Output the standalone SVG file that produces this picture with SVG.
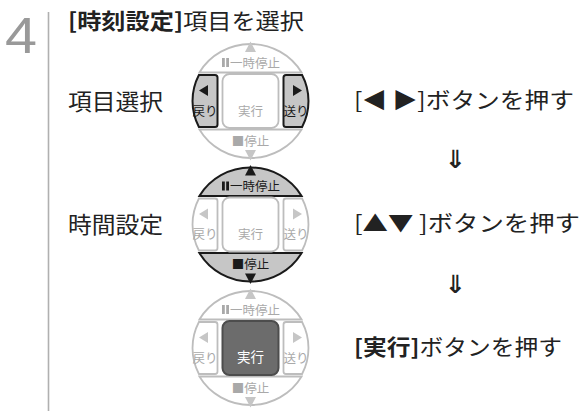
<svg xmlns="http://www.w3.org/2000/svg" xmlns:xlink="http://www.w3.org/1999/xlink" width="582" height="413" viewBox="0 0 582 413">
<style>
text{font-family:"Noto Sans CJK JP","Noto Sans",sans-serif}
.off{fill:#fff;stroke:#bdbdbd;stroke-width:1.8}
.offt{fill:#a9a9a9}
.offtri{fill:#c6c6c6}
.on{fill:#c6c6c6;stroke:#1a1a1a;stroke-width:2}
.ont{fill:#1a1a1a}
.onc{fill:#6c6c6c;stroke:#4d4d4d;stroke-width:2}
.onct{fill:#fff}
.s{font-size:12.5px;text-anchor:middle}
.lab{font-size:22.5px;fill:#222}
.rt{font-size:21.5px;fill:#222}
.arr{font-family:"DejaVu Sans",sans-serif;font-size:25px;font-weight:bold;fill:#222;text-anchor:middle}
</style>
<defs>
<path id="topSeg" d="M -51.1,-28.5 A 59 57 0 0 1 51.1,-28.5 Z"/>
<path id="botSeg" d="M -51.1,28.5 A 59 57 0 0 0 51.1,28.5 Z"/>
<path id="leftBtn" d="M -35.5,-26 L -51.6,-26 A 58 57 0 0 0 -51.6,26 L -35.5,26 Q -33,26 -33,23.5 L -33,-23.5 Q -33,-26 -35.5,-26 Z"/>
<path id="rightBtn" d="M 35.5,-26 L 51.6,-26 A 58 57 0 0 1 51.6,26 L 35.5,26 Q 33,26 33,23.5 L 33,-23.5 Q 33,-26 35.5,-26 Z"/>
<rect id="centerBtn" x="-28" y="-27" width="56" height="54" rx="7"/>
<path id="upTri" d="M 0,-59.5 L 5.5,-49 L -5.5,-49 Z"/>
<path id="downTri" d="M 0,59.5 L 5.5,49 L -5.5,49 Z"/>
<path id="lTri" d="M -51.5,-10.5 L -42.5,-16 L -42.5,-5 Z"/>
<path id="rTri" d="M 51.5,-10.5 L 42.5,-16 L 42.5,-5 Z"/>
<g id="pause"><rect x="-28.5" y="-43" width="2.8" height="9"/><rect x="-24.3" y="-43" width="2.8" height="9"/></g>
</defs>

<g id="step-number">
<text x="5" y="53" style="font-family:'Liberation Sans',sans-serif" font-size="50" fill="#999999" textLength="32" lengthAdjust="spacingAndGlyphs">4</text>
<line x1="48.5" y1="12" x2="48.5" y2="411" stroke="#b0b0b0" stroke-width="1.6"/>
</g>

<g id="heading">
<text x="68" y="29" font-size="22" fill="#222" textLength="236" lengthAdjust="spacingAndGlyphs"><tspan font-weight="bold">[時刻設定]</tspan>項目を選択</text>
</g>

<g id="label-item"><text class="lab" x="68" y="110" textLength="95" lengthAdjust="spacingAndGlyphs">項目選択</text></g>
<g id="label-time"><text class="lab" x="68" y="233" textLength="95" lengthAdjust="spacingAndGlyphs">時間設定</text></g>

<!-- controller 1: left/right active -->
<g id="ctrl1" transform="translate(250.5,101)">
<use xlink:href="#topSeg" class="off"/>
<use xlink:href="#botSeg" class="off"/>
<use xlink:href="#upTri" class="offtri"/>
<use xlink:href="#downTri" class="offtri"/>
<use xlink:href="#leftBtn" class="on"/>
<use xlink:href="#rightBtn" class="on"/>
<use xlink:href="#centerBtn" class="off"/>
<use xlink:href="#pause" class="offt"/>
<text class="s offt" x="4.5" y="-33.5">一時停止</text>
<text class="s offt" x="0" y="44.5">■停止</text>
<use xlink:href="#lTri" class="ont"/>
<use xlink:href="#rTri" class="ont"/>
<text class="s ont" x="-45.5" y="14.5">戻り</text>
<text class="s ont" x="45.5" y="14.5">送り</text>
<text class="s offt" x="0" y="14.5">実行</text>
</g>

<!-- controller 2: up/down active -->
<g id="ctrl2" transform="translate(250.5,224.5)">
<use xlink:href="#topSeg" class="on"/>
<use xlink:href="#botSeg" class="on"/>
<use xlink:href="#upTri" class="ont"/>
<use xlink:href="#downTri" class="ont"/>
<use xlink:href="#leftBtn" class="off"/>
<use xlink:href="#rightBtn" class="off"/>
<use xlink:href="#centerBtn" class="off"/>
<use xlink:href="#pause" class="ont"/>
<text class="s ont" x="4.5" y="-33.5">一時停止</text>
<text class="s ont" x="0" y="44.5">■停止</text>
<use xlink:href="#lTri" class="offtri"/>
<use xlink:href="#rTri" class="offtri"/>
<text class="s offt" x="-45.5" y="14.5">戻り</text>
<text class="s offt" x="45.5" y="14.5">送り</text>
<text class="s offt" x="0" y="14.5">実行</text>
</g>

<!-- controller 3: center active -->
<g id="ctrl3" transform="translate(250.5,348)">
<use xlink:href="#topSeg" class="off"/>
<use xlink:href="#botSeg" class="off"/>
<use xlink:href="#upTri" class="offtri"/>
<use xlink:href="#downTri" class="offtri"/>
<use xlink:href="#leftBtn" class="off"/>
<use xlink:href="#rightBtn" class="off"/>
<use xlink:href="#centerBtn" class="onc"/>
<use xlink:href="#pause" class="offt"/>
<text class="s offt" x="4.5" y="-33.5">一時停止</text>
<text class="s offt" x="0" y="44.5">■停止</text>
<use xlink:href="#lTri" class="offtri"/>
<use xlink:href="#rTri" class="offtri"/>
<text class="s offt" x="-45.5" y="14.5">戻り</text>
<text class="s offt" x="45.5" y="14.5">送り</text>
<text class="s onct" x="0" y="13.5" style="font-size:13.5px">実行</text>
</g>

<g id="instr1"><text class="rt" x="354" y="108" textLength="220" lengthAdjust="spacingAndGlyphs">[◀ ▶]ボタンを押す</text></g>
<g id="instr2"><text class="rt" x="354" y="231" textLength="226" lengthAdjust="spacingAndGlyphs">[▲▼ ]ボタンを押す</text></g>
<g id="instr3"><text class="rt" x="354" y="355" textLength="208" lengthAdjust="spacingAndGlyphs"><tspan font-weight="bold">[実行]</tspan>ボタンを押す</text></g>

<g id="connectors">
<text class="arr" x="455" y="168">⇓</text>
<text class="arr" x="455" y="293">⇓</text>
</g>
</svg>
